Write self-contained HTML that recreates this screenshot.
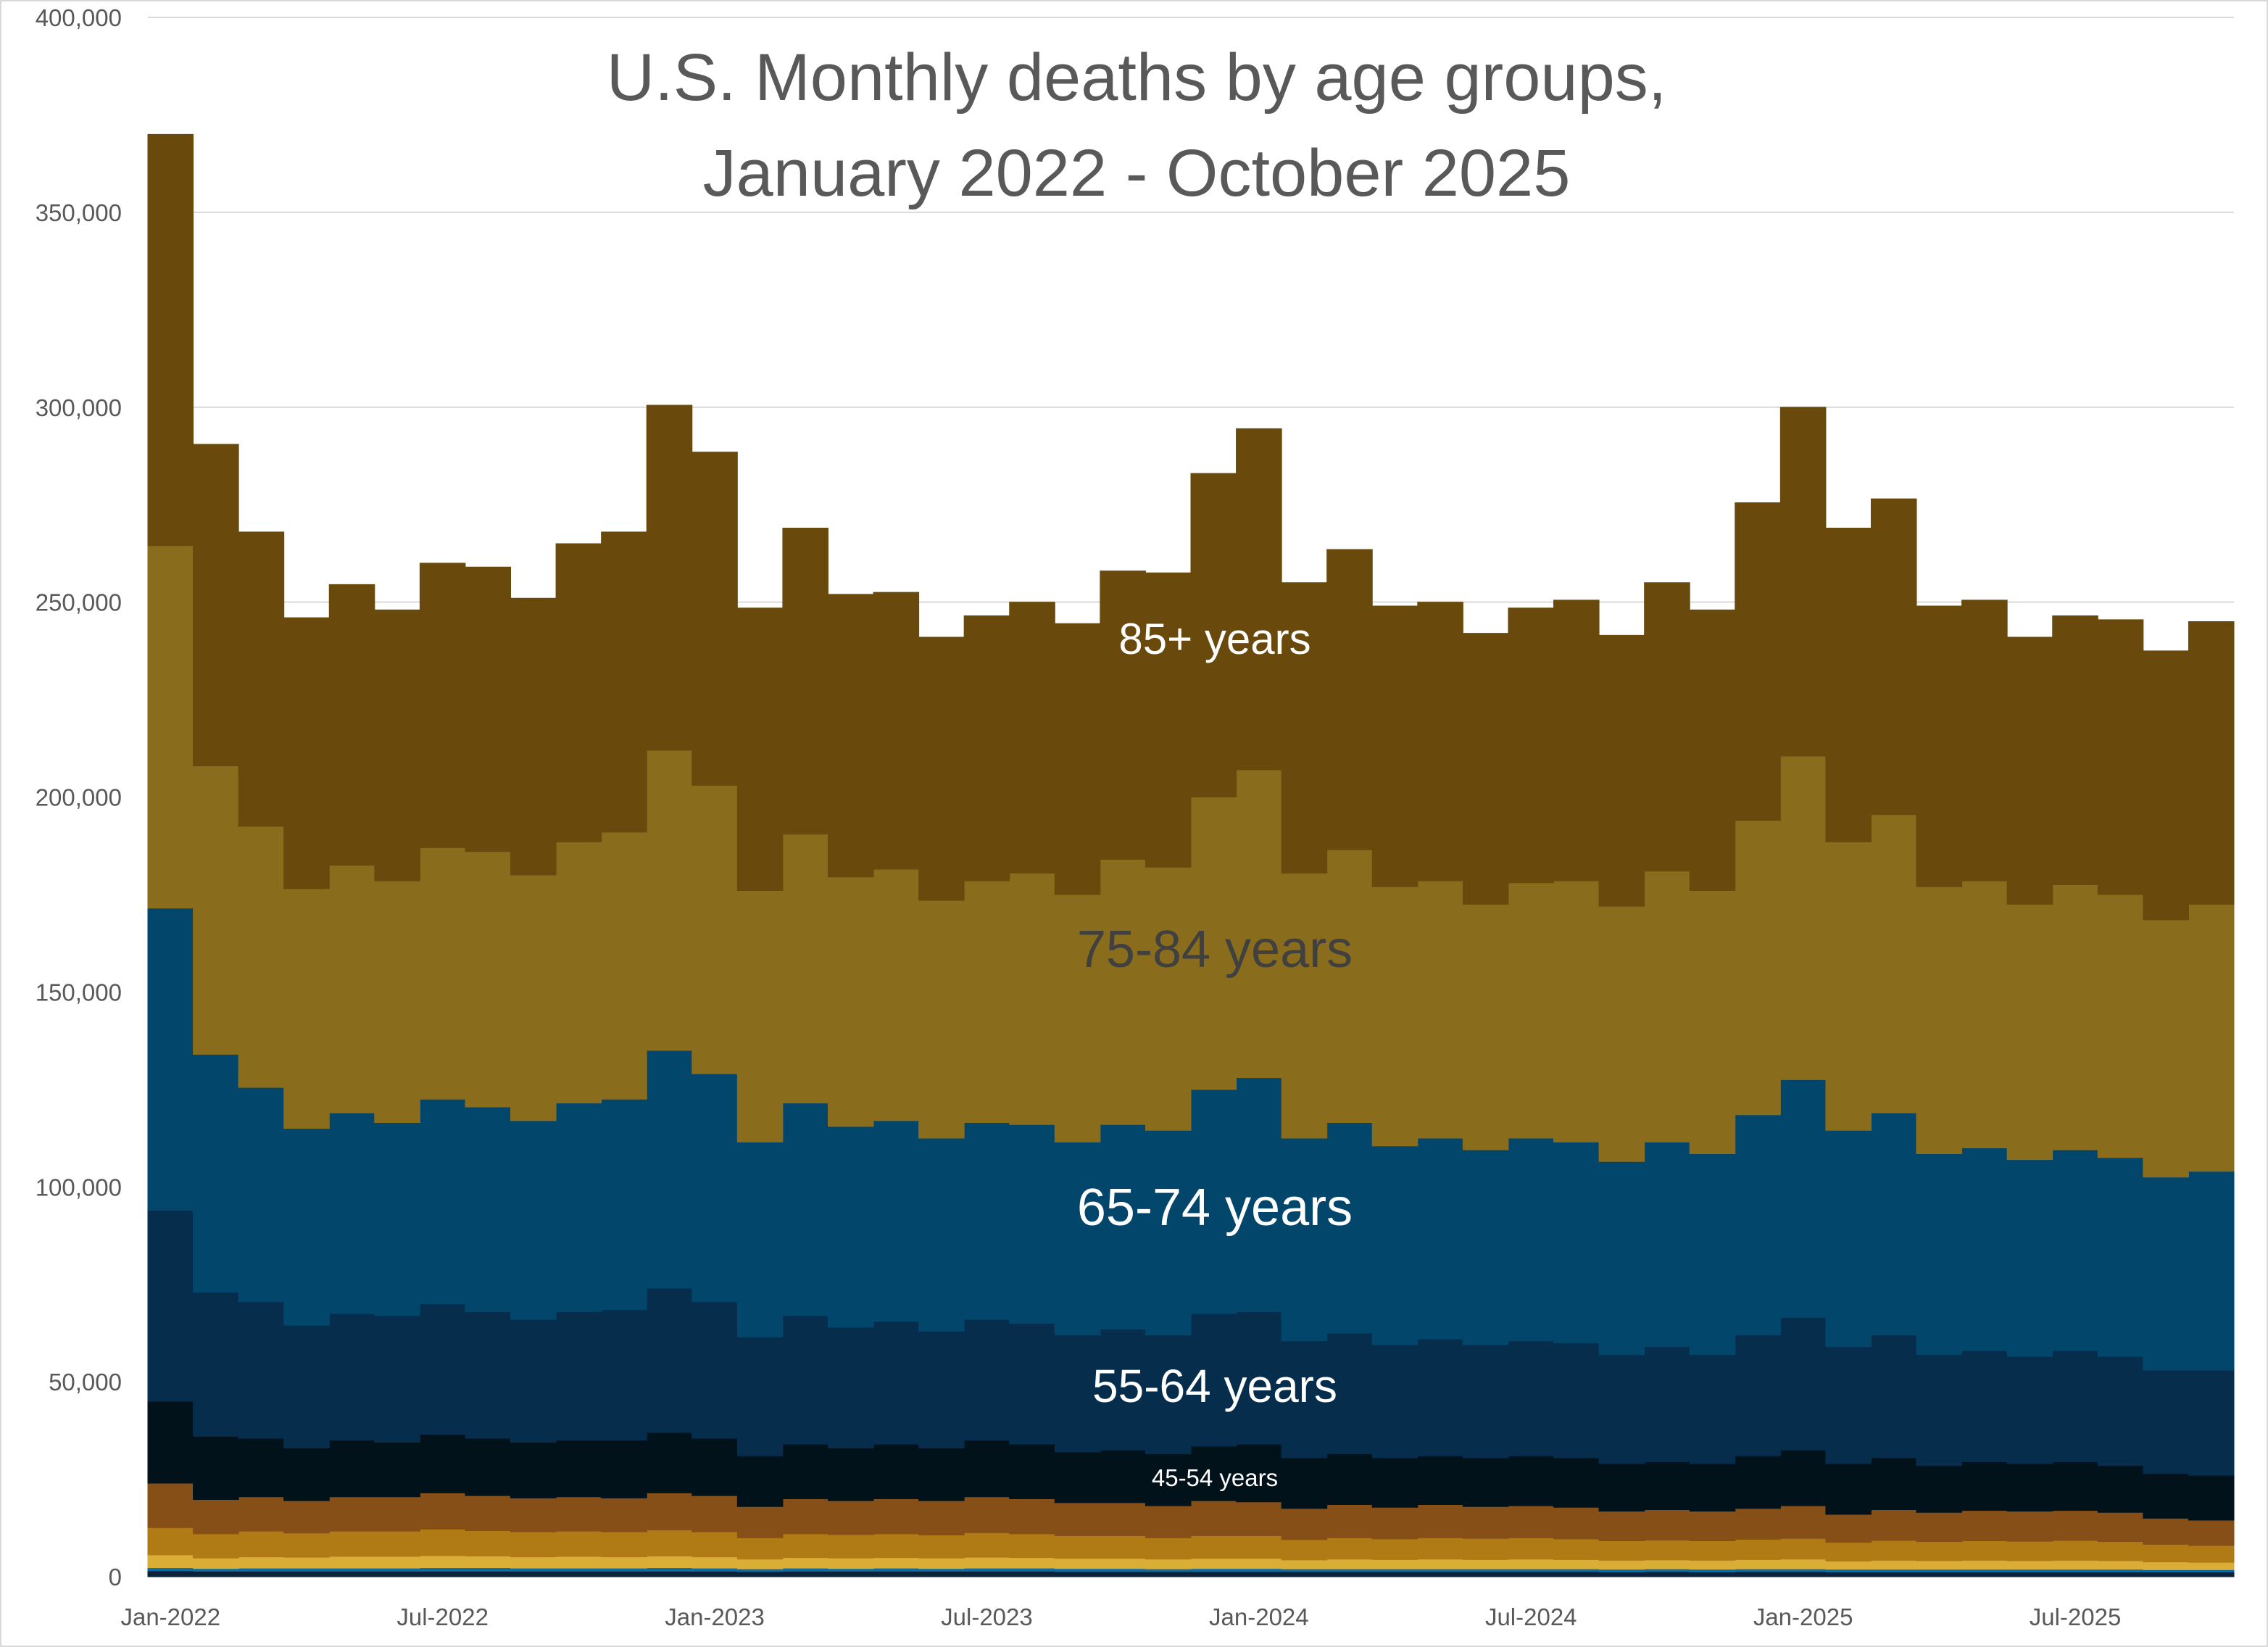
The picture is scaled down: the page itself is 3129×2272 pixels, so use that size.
<!DOCTYPE html>
<html><head><meta charset="utf-8">
<style>
html,body{margin:0;padding:0;background:#fff;}
svg{display:block;font-family:"Liberation Sans",sans-serif;}
</style></head>
<body>
<svg id="chart" width="3129" height="2272" viewBox="0 0 3129 2272" xmlns="http://www.w3.org/2000/svg">
<rect x="1" y="1" width="3127" height="2270" fill="#fff" stroke="#d9d9d9" stroke-width="2"/>
<g id="grid"></g>
<g id="areas"></g>
<g id="yticks"></g>
<g id="xticks"></g>
<text x="1568" y="138" text-anchor="middle" font-size="92" fill="#595959">U.S. Monthly deaths by age groups,</text>
<text x="1568" y="270" text-anchor="middle" font-size="92" fill="#595959">January 2022 - October 2025</text>
<text x="1676" y="902" text-anchor="middle" font-size="60" fill="#fff">85+ years</text>
<text x="1676" y="1334" text-anchor="middle" font-size="72" fill="#404040">75-84 years</text>
<text x="1676" y="1690" text-anchor="middle" font-size="72" fill="#fff">65-74 years</text>
<text x="1676" y="1934" text-anchor="middle" font-size="64" fill="#fff">55-64 years</text>
<text x="1676" y="2050" text-anchor="middle" font-size="33" fill="#fff">45-54 years</text>
</svg>
<script>
// cumulative tops of each age band (deaths), Jan 2022 - Oct 2025
const months = 46;
const xLabels = ["Jan-2022","Jul-2022","Jan-2023","Jul-2023","Jan-2024","Jul-2024","Jan-2025","Jul-2025"];
const xLabelIdx = [0,6,12,18,24,30,36,42];
const yTicks = [0,50000,100000,150000,200000,250000,300000,350000,400000];
const top85 = [370000,290500,268000,246000,254500,248000,260000,259000,251000,265000,268000,300500,288500,248500,269000,252000,252500,241000,246500,250000,244500,258000,257500,283000,294500,255000,263500,249000,250000,242000,248500,250500,241500,255000,248000,275500,300000,269000,276500,249000,250500,241000,246500,245500,237500,245000];
const top75 = [264500,208000,192500,176500,182500,178500,187000,186000,180000,188500,191000,212000,203000,176000,190500,179500,181500,173500,178500,180500,175000,184000,182000,200000,207000,180500,186500,177000,178500,172500,178000,178500,172000,181000,176000,194000,210500,188500,195500,177000,178500,172500,177500,175000,168500,172500];
const top65 = [171500,134000,125500,115000,119000,116500,122500,120500,117000,121500,122500,135000,129000,111500,121500,115500,117000,112500,116500,116000,111500,116000,114500,125000,128000,112500,116500,110500,112500,109500,112500,111500,106500,111500,108500,118500,127500,114500,119000,108500,110000,107000,109500,107500,102500,104000];
const top55 = [94000,73000,70500,64500,67500,67000,70000,68000,66000,68000,68500,74000,70500,61500,67000,64000,65500,63000,66000,65000,62000,63500,62000,67500,68000,60500,62500,59500,61000,59500,60500,60000,57000,59000,57000,62000,66500,59000,62000,57000,58000,56500,58000,56500,53000,53000];
const top45 = [45000,36000,35500,33000,35000,34500,36500,35500,34500,35000,35000,37000,35500,31000,34000,33000,34000,33000,35000,34000,32000,32500,31500,33500,34000,30500,31500,30500,31000,30500,31000,30500,29000,29500,29000,31000,32500,29000,30500,28500,29500,29000,29500,28500,26500,26000];
const top35 = [24000,19800,20500,19500,20500,20500,21500,20800,20200,20500,20200,21500,20800,18000,20000,19500,20000,19500,20500,20000,19000,19000,18200,19500,19200,17500,18500,17800,18500,18000,18200,17800,16800,17200,16800,17500,18200,16000,17200,16500,17000,16800,17000,16500,15000,14500];
const top25 = [12600,11000,11700,11200,11700,11700,12200,11800,11500,11700,11500,12000,11500,10000,11000,10800,11000,10700,11300,11000,10500,10500,10000,10500,10500,9500,10000,9700,10000,9800,10000,9700,9200,9400,9200,9600,9800,8800,9300,9000,9200,9100,9300,9000,8300,8000];
const top15 = [5600,4800,5100,5000,5200,5200,5400,5300,5100,5200,5100,5300,5100,4500,4900,4800,4900,4800,5000,4900,4700,4700,4500,4700,4700,4300,4500,4400,4500,4400,4500,4400,4200,4300,4200,4400,4500,4000,4200,4100,4200,4100,4200,4100,3800,3700];
const top5 = [2300,2100,2200,2200,2200,2200,2300,2300,2200,2200,2200,2300,2200,2000,2200,2100,2200,2100,2200,2200,2100,2100,2000,2100,2100,2000,2000,2000,2000,2000,2000,2000,1900,2000,1900,2000,2000,1900,1900,1900,1900,1900,1900,1900,1800,1800];
const top1 = [1500,1400,1400,1400,1400,1400,1400,1400,1400,1400,1400,1400,1400,1300,1400,1400,1400,1400,1400,1400,1300,1300,1300,1300,1300,1300,1300,1300,1300,1300,1300,1300,1200,1300,1200,1300,1300,1200,1200,1200,1200,1200,1200,1200,1200,1200];

const X0 = 204, X1 = 3082, Y0 = 2175, YT = 24;
const mw = (X1 - X0) / months;
function xs(i){ return X0 + i * mw; }
function ys(v){ return Y0 - v / 400000 * (Y0 - YT); }
const NS = "http://www.w3.org/2000/svg";

const grid = document.getElementById('grid');
const yt = document.getElementById('yticks');
yTicks.forEach(v => {
  const l = document.createElementNS(NS,'line');
  
  
  l.setAttribute('x1', X0); l.setAttribute('x2', X1);
  l.setAttribute('y1', ys(v)); l.setAttribute('y2', ys(v));
  l.setAttribute('stroke', '#d9d9d9'); l.setAttribute('stroke-width', '2');
  grid.appendChild(l);
  const t = document.createElementNS(NS,'text');
  
  
  t.setAttribute('x', 168); t.setAttribute('y', ys(v) + 12);
  t.setAttribute('text-anchor', 'end'); t.setAttribute('font-size', '33');
  t.setAttribute('fill', '#595959');
  t.textContent = v.toLocaleString('en-US');
  yt.appendChild(t);
});

const xt = document.getElementById('xticks');
xLabels.forEach((lab, k) => {
  const t = document.createElementNS(NS,'text');
  
  
  t.setAttribute('x', xs(xLabelIdx[k] + 0.5)); t.setAttribute('y', 2242);
  t.setAttribute('text-anchor', 'middle'); t.setAttribute('font-size', '33');
  t.setAttribute('fill', '#595959');
  t.textContent = lab;
  xt.appendChild(t);
});

const zero = new Array(months).fill(0);
const layers = [
  {name:'area-under-1', top:top1, bot:zero, c:'#0b2238'},
  {name:'area-1-14', top:top5, bot:top1, c:'#0d6aa3'},
  {name:'area-15-24', top:top15, bot:top5, c:'#d9ad36'},
  {name:'area-25-34', top:top25, bot:top15, c:'#b07a14'},
  {name:'area-35-44', top:top35, bot:top25, c:'#864f17'},
  {name:'area-45-54', top:top45, bot:top35, c:'#01121b'},
  {name:'area-55-64', top:top55, bot:top45, c:'#072d4d'},
  {name:'area-65-74', top:top65, bot:top55, c:'#03466b'},
  {name:'area-75-84', top:top75, bot:top65, c:'#8a6d1c'},
  {name:'area-85-plus', top:top85, bot:top75, c:'#694a0c'}
];
const ag = document.getElementById('areas');
layers.forEach(L => {
  let d = '';
  for (let i = 0; i < months; i++) {
    d += (i === 0 ? 'M' : 'L') + xs(i) + ',' + ys(L.top[i]) + 'L' + xs(i+1) + ',' + ys(L.top[i]);
  }
  for (let i = months - 1; i >= 0; i--) {
    d += 'L' + xs(i+1) + ',' + ys(L.bot[i]) + 'L' + xs(i) + ',' + ys(L.bot[i]);
  }
  d += 'Z';
  const p = document.createElementNS(NS,'path');
  
  
  p.setAttribute('d', d);
  p.setAttribute('fill', L.c);
  p.setAttribute('stroke', L.c);
  p.setAttribute('stroke-width', '1');
  ag.appendChild(p);
});
</script>
</body></html>
